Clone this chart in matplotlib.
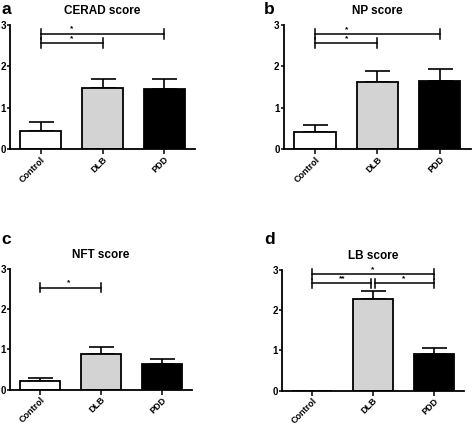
import matplotlib
matplotlib.use("Agg")
import matplotlib.pyplot as plt

plt.rcParams['font.family'] = ['Liberation Sans', 'DejaVu Sans']
plt.rcParams['font.weight'] = 'bold'

groups = ["Control", "DLB", "PDD"]
colors = ["white", "#d3d3d3", "black"]

cerad_mean = [0.43, 1.47, 1.45]
cerad_sem = [0.22, 0.22, 0.24]
np_mean = [0.42, 1.61, 1.65]
np_sem = [0.16, 0.27, 0.28]
nft_mean = [0.21, 0.89, 0.63]
nft_sem = [0.09, 0.18, 0.14]
lb_mean = [0.0, 2.28, 0.91]
lb_sem = [0.0, 0.19, 0.16]

W, H = 472, 425
fig = plt.figure(figsize=(W / 100, H / 100), dpi=100)


def px_axes(left, top, right, bottom):
    return fig.add_axes([left / W, 1 - bottom / H, (right - left) / W, (bottom - top) / H])


def bracket(ax, x1, x2, y, star, sx=None, dl=0.12, dr=0.12):
    ax.plot([x1, x2], [y, y], color="black", lw=1.1, clip_on=False)
    ax.plot([x1, x1], [y - dl, y + dl], color="black", lw=1.1, clip_on=False)
    ax.plot([x2, x2], [y - dr, y + dr], color="black", lw=1.1, clip_on=False)
    if star:
        ax.text(sx if sx is not None else (x1 + x2) / 2, y + 0.03,
                star, ha="center", va="bottom", fontsize=6, clip_on=False)


def panel(ax, mean, sem, title, letter, lx, ly):
    x = range(len(groups))
    ax.bar(x, mean, width=0.66, color=colors, edgecolor="black", linewidth=1.3, zorder=2)
    for i in x:
        if sem[i] > 0:
            ax.errorbar(i, mean[i], yerr=[[0], [sem[i]]], color="black", lw=1.2,
                        capsize=9, capthick=1.2, zorder=1)
    ax.set_xlim(-0.5, 2.5)
    ax.set_ylim(0, 3)
    ax.set_yticks([0, 1, 2, 3])
    ax.set_xticks(list(x))
    ax.set_xticklabels(groups, rotation=45, ha="right", rotation_mode="anchor", fontsize=6.5)
    ax.tick_params(axis="y", labelsize=7, length=2.5, width=1.1, pad=0.5)
    ax.tick_params(axis="x", length=3.5, width=1.1, pad=0.5)
    for s in ["top", "right"]:
        ax.spines[s].set_visible(False)
    for s in ["left", "bottom"]:
        ax.spines[s].set_linewidth(1.3)
    ax.set_title(title, fontsize=8.5, fontweight="bold", pad=8)
    fig.text(lx / W, 1 - ly / H, letter, fontsize=12.5, fontweight="bold", ha="left", va="center")


ax_a = px_axes(10, 24.7, 195, 149.3)
panel(ax_a, cerad_mean, cerad_sem, "CERAD score", "a", 1, 10)
bracket(ax_a, 0, 2, 2.78, "*", sx=0.5)
bracket(ax_a, 0, 1, 2.55, "*", sx=0.5)

ax_b = px_axes(283.7, 24.7, 471, 149.3)
panel(ax_b, np_mean, np_sem, "NP score", "b", 264, 10)
bracket(ax_b, 0, 2, 2.77, "*", sx=0.5)
bracket(ax_b, 0, 1, 2.55, "*", sx=0.5)

ax_c = px_axes(10, 268.7, 192, 389.7)
panel(ax_c, nft_mean, nft_sem, "NFT score", "c", 1, 240)
bracket(ax_c, 0, 1, 2.53, "*", sx=0.47)

ax_d = px_axes(282, 269.7, 464, 390.7)
panel(ax_d, lb_mean, lb_sem, "LB score", "d", 264, 239)
bracket(ax_d, 0, 2, 2.89, "*", sx=1.0)
bracket(ax_d, 0, 0.96, 2.66, "**", sx=0.5)
bracket(ax_d, 1.04, 2, 2.66, "*", sx=1.5)

fig.savefig("out.png", dpi=100)
